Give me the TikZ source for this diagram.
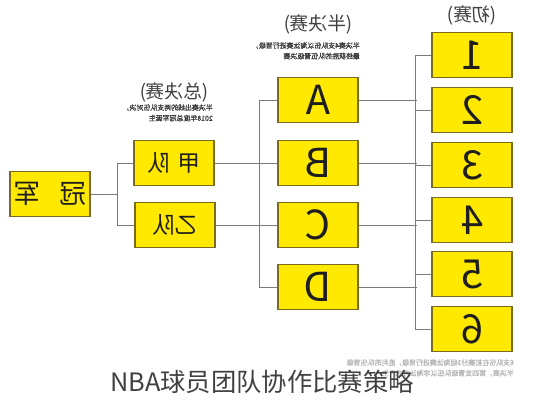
\documentclass[tikz,border=0pt]{standalone}
\usepackage{fontspec}
\newfontfamily\cjk{Noto Sans CJK SC}
\newfontfamily\cjkfett[FakeBold=1.5]{Noto Sans CJK SC}
\usetikzlibrary{positioning}
\definecolor{gelb}{HTML}{FFE900}
\definecolor{gelbr}{HTML}{7A6C1E}
\definecolor{strich}{HTML}{7A7A7A}
\definecolor{schrift}{HTML}{1E1E1E}
\definecolor{hgrau}{HTML}{B8B8B8}
\newcommand{\spgl}[1]{\reflectbox{#1}}
\tikzset{
  box/.style={draw=gelbr,fill=gelb,line width=0.8pt,minimum width=60pt,minimum height=33.75pt,inner sep=0pt,text=schrift},
  linie/.style={strich,line width=0.6pt},
  kopf/.style={font=\cjk\fontsize{14}{14}\selectfont,text=schrift!85,inner sep=0pt},
  notiz/.style={font=\cjkfett\fontsize{5.2}{10.5}\selectfont,text=schrift!85,inner sep=0pt},
}
\begin{document}
\begin{tikzpicture}[x=0.75pt,y=-0.75pt]
  \useasboundingbox (0,0) rectangle (548,400);
  % ===== Boxen =====
  \node[box,font=\cjk\fontsize{20}{20}\selectfont] (guan) at (50,194) {\spgl{冠\hspace{14pt}军}};
  \node[box,font=\cjk\fontsize{17}{17}\selectfont] (jia) at (174,163) {\spgl{甲\hspace{6pt}队}};
  \node[box,font=\cjk\fontsize{17}{17}\selectfont] (yi) at (175,225) {\spgl{乙队}};
  \foreach \n/\t/\y in {a/A/100, b/B/163, c/C/225, d/D/287}{
    \node[box,font=\cjk\fontsize{30}{30}\selectfont] (\n) at (318,\y) {\spgl{\t}};}
  \foreach \i/\y in {1/55, 2/110, 3/165, 4/220, 5/274, 6/329}{
    \node[box,font=\cjk\fontsize{30}{30}\selectfont] (r\i) at (472,\y) {\spgl{\i}};}
  % ===== Verbindungen =====
  \draw[linie] (guan.east) -- ++(27,0) coordinate (k1);
  \draw[linie] (jia.west) -| (k1) |- (yi.west);
  \draw[linie] (jia.east) -- (b.west);
  \draw[linie] (yi.east) -- (c.west);
  \draw[linie] (a.west) -- ++(-18,0) |- (d.west);
  \foreach \n in {a,b,c,d}{
    \draw[linie] (\n.east) -- ++(58,0);}
  \draw[linie] (r1.west) -- ++(-16,0) |- (r6.west);
  \foreach \i in {2,...,5}{
    \draw[linie] (r\i.west) -- ++(-16,0);}
  % ===== Überschriften und Notizen (gespiegelt) =====
  \node[kopf] (hfinal) at (174,92) {\spgl{(总决赛)}};
  \node[kopf] (hsemi) at (318,24) {\spgl{(半决赛)}};
  \node[kopf] (hvor) at (472,15) {\spgl{(初赛)}};
  \node[notiz,anchor=north east] (nfinal) at (213,104) {\spgl{\shortstack[l]{半决赛出线的两支队伍对决，\\2018年度总冠军诞生}}};
  \node[notiz,anchor=north east] (nsemi) at (360,42) {\spgl{\shortstack[l]{半决赛4支队伍以淘汰赛进行晋级，\\最终获胜的队伍晋级决赛}}};
  \node[notiz,text=hgrau,anchor=north east] (nvor) at (514,359) {\spgl{\shortstack[l]{6支队伍在初赛分3组淘汰赛进行晋级，胜利的队伍晋级\\半决赛，第四支晋级队伍以非淘汰方式产生}}};
  % ===== Titel =====
  \node[font=\cjk\fontsize{19}{19}\selectfont,text=schrift!85,inner sep=0pt] (titel) at (262,382) {NBA球员团队协作比赛策略};
\end{tikzpicture}
\end{document}
